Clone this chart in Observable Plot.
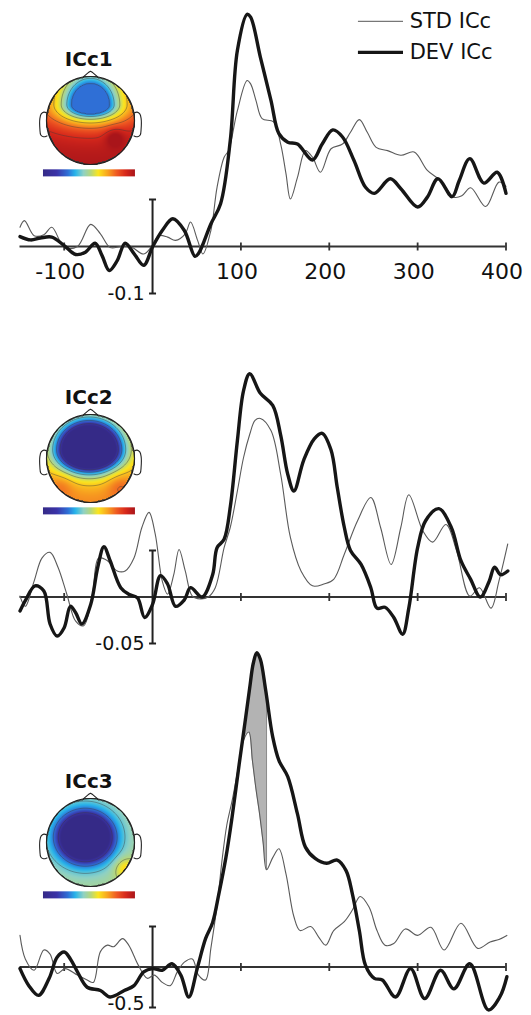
<!DOCTYPE html>
<html><head><meta charset="utf-8">
<script src="https://cdn.jsdelivr.net/npm/d3@7"></script>
<script src="https://cdn.jsdelivr.net/npm/@observablehq/plot@0.6"></script>
<style>
html,body{margin:0;padding:0;background:#fff;}
#wrap{position:relative;width:531px;height:1015px;overflow:hidden;background:#fff;}
#wrap svg{position:absolute;left:0;overflow:visible;}
</style></head><body><div id="wrap"></div>
<script>
// ---------- labels ----------
const xTicks = [-100, 100, 200, 300, 400];
const tickLabels = ["-100", "100", "200", "300", "400"];
const legendLabels = ["STD ICc", "DEV ICc"];
const componentTitles = ["ICc1", "ICc2", "ICc3"];
const scaleLabels = ["-0.1", "-0.05", "-0.5"];
const scaleBars = [0.1, 0.05, 0.5];

// ---------- ICc1 ----------
const ic1DevT = [-150,-138,-127,-114,-100,-87,-76,-65,-57,-49,-40,-31,-21,-10,0,11,23,36,48,52,66,77,88,96,107,111,122,134,143,153,164,181,192,204,215,228,241,251,269,281,300,311,323,339,347,359,375,390,400];
const ic1DevV = [0.021,0.014,0.018,0.020,0.002,-0.017,-0.012,0.007,-0.02,-0.051,-0.03,0.007,-0.015,-0.040,-0.001,0.034,0.059,0.034,-0.021,-0.015,0.048,0.091,0.226,0.417,0.494,0.488,0.403,0.311,0.240,0.222,0.218,0.184,0.218,0.248,0.233,0.183,0.126,0.113,0.144,0.123,0.084,0.105,0.144,0.106,0.140,0.187,0.135,0.158,0.113];
const ic1StdT = [-150,-145,-134,-123,-114,-100,-85,-70,-59,-48,-36,-25,-10,0,7,17,26,37,43,51,57,66,73,81,86,96,107,111,117,124,137,145,151,156,164,173,181,190,202,215,224,234,243,253,266,281,296,311,326,341,350,360,377,392,400];
const ic1StdV = [0.041,0.055,0.023,0.025,0.041,-0.001,0.0,0.047,0.027,-0.002,0.0,0.0,-0.016,0.003,0.023,0.020,0.013,0.027,0.052,0.013,-0.016,0.034,0.126,0.190,0.204,0.289,0.353,0.346,0.311,0.272,0.265,0.218,0.155,0.101,0.147,0.204,0.190,0.158,0.208,0.218,0.243,0.270,0.243,0.211,0.204,0.194,0.201,0.162,0.140,0.105,0.108,0.125,0.085,0.137,0.128];

// ---------- ICc2 ----------
const ic2DevT = [-150,-144,-133,-123,-116,-108,-100,-93,-87,-80,-70,-62,-55,-48,-36,-27,-17,-9,0,9,17,26,36,43,56,68,73,81,88,96,103,110,122,136,145,153,160,171,183,192,202,209,217,224,236,247,254,263,273,283,290,300,309,324,338,349,360,371,381,387,394,402];
const ic2DevV = [-0.015,-0.004,0.012,0.0065,-0.029,-0.042,-0.033,-0.010,-0.017,-0.029,-0.008,0.032,0.054,0.039,0.010,0.003,-0.001,-0.022,-0.008,0.023,0.014,-0.010,-0.003,0.010,0.0,0.024,0.053,0.062,0.097,0.168,0.222,0.240,0.219,0.206,0.174,0.132,0.114,0.147,0.170,0.176,0.158,0.118,0.075,0.050,0.035,0.010,-0.012,-0.011,-0.022,-0.040,-0.012,0.053,0.082,0.095,0.075,0.039,0.019,0.0,0.017,0.032,0.024,0.028];
const ic2StdT = [-150,-144,-134,-125,-116,-107,-97,-87,-78,-68,-61,-51,-40,-31,-21,-12,-4,3,11,17,24,30,37,45,54,63,71,81,88,96,103,110,116,122,134,145,156,168,181,194,205,217,232,247,258,270,281,290,306,317,332,344,359,370,383,392,402];
const ic2StdV = [0.001,-0.010,0.017,0.042,0.048,0.032,0.003,-0.026,-0.031,0.003,0.042,0.039,0.028,0.028,0.042,0.075,0.091,0.068,0.017,0.003,0.024,0.051,0.028,0.001,-0.002,0.0,0.010,0.053,0.075,0.114,0.150,0.175,0.190,0.192,0.179,0.132,0.064,0.028,0.012,0.014,0.019,0.046,0.082,0.107,0.075,0.035,0.075,0.110,0.071,0.059,0.078,0.050,0.001,0.010,-0.012,0.017,0.057];

// ---------- ICc3 ----------
const ic3DevT = [-150,-140,-129,-117,-108,-100,-93,-85,-74,-59,-48,-32,-21,-10,0,11,22,32,41,51,60,68,75,83,90,98,105,110,114,118,122,128,136,143,153,164,173,184,197,209,219,226,234,241,251,260,275,292,308,326,341,359,380,393,401];
const ic3DevV = [-0.02,-0.23,-0.35,-0.14,0.12,0.185,0.10,-0.06,-0.25,-0.29,-0.37,-0.29,-0.23,-0.06,-0.02,-0.04,0.04,-0.10,-0.37,0.0,0.35,0.55,0.9,1.35,1.85,2.5,3.05,3.45,3.75,3.88,3.8,3.42,2.84,2.55,2.35,1.89,1.48,1.34,1.28,1.32,1.19,0.91,0.45,0.02,-0.14,-0.16,-0.37,-0.02,-0.39,-0.04,-0.27,0.04,-0.53,-0.37,-0.12];
const ic3StdT = [-150,-144,-134,-123,-116,-108,-99,-85,-74,-67,-59,-51,-44,-34,-27,-16,-6,2,11,20,28,36,45,52,60,66,73,79,84,90,96,103,109,113,117,121,125,129,136,143,151,160,167,179,188,196,205,217,226,235,245,254,263,273,286,300,315,330,349,368,382,392,401];
const ic3StdV = [0.39,0.10,-0.04,0.21,0.16,-0.08,-0.02,-0.10,-0.16,-0.19,0.19,0.27,0.25,0.35,0.27,0.02,-0.14,-0.10,-0.19,-0.23,-0.06,0.06,0.10,-0.10,-0.16,0.23,0.76,1.35,1.75,2.05,2.4,2.8,2.9,2.55,2.2,1.9,1.55,1.2,1.35,1.46,1.15,0.62,0.45,0.50,0.37,0.27,0.45,0.56,0.70,0.87,0.74,0.45,0.27,0.29,0.47,0.39,0.49,0.21,0.54,0.23,0.31,0.34,0.39];
// shaded difference (ICc3)
const shadeT = [105,109,113,117,121,125,129];
const shadeDev = [3.05,3.4,3.72,3.87,3.82,3.6,3.35];
const shadeStd = [2.85,2.9,2.55,2.2,1.9,1.55,1.2];

// ---------- scalp-map descriptions (field shape per component) ----------
// [cx, cy, sx, syUp, syDown, r0, A, L, base, gy]
const map1 = [0.0, 0.36, 1.8, 2.0, 0.9, 0.24, 1.45, 0.3, -0.46, 0];
const map2 = [-0.03, 0.2, 1.45, 1.3, 1.0, 0.42, 1.5, 0.2, -1.0, 0];
const map3 = [-0.12, 0.12, 1.1, 1.0, 1.0, 0.5, 1.0, 0.2, -1.0, 0];
// spots: [x, y, amplitude, sigma]
const spots1 = [[0.55, -0.38, 0.25, 0.15]];
const spots2 = [[0.65, -0.6, 0.15, 0.2], [-0.65, -0.6, 0.12, 0.2]];
const spots3 = [[0.8, -0.6, 0.3, 0.18]];
const cmapStops = [-1, -0.7, -0.46, -0.3, -0.12, 0.04, 0.2, 0.4, 0.6, 0.8, 1];
const cmapColors = ["#352a87","#3b33a8","#2f6fd6","#27b4ea","#8fd1c4","#b6d77a","#fbe51e","#f8a51f","#ef5a22","#d7281b","#a9151a"];
const contourLevels = [-0.75, -0.45, -0.2, 0.05, 0.3, 0.55, 0.8];
// head drawing shapes (unit = head radius)
const noseX = [-0.17, -0.05, 0, 0.05, 0.17];
const noseY = [0.985, 1.09, 1.12, 1.09, 0.985];
const earX = [-0.99, -1.06, -1.12, -1.15, -1.15, -1.13, -1.07, -0.99];
const earY = [0.17, 0.19, 0.15, 0.05, -0.2, -0.33, -0.37, -0.35];

const FONT = "DejaVu Sans, Liberation Sans, Arial, sans-serif";
const wrap = document.getElementById("wrap");

const vline = {draw(ctx, size) { const r = Math.sqrt(size / Math.PI); ctx.moveTo(0, -r); ctx.lineTo(0, r); }};
const hline = {draw(ctx, size) { const r = Math.sqrt(size / Math.PI); ctx.moveTo(-r, 0); ctx.lineTo(r, 0); }};

function panel(o) {
  const b = o.bar;
  const marks = [];
  if (o.shade) {
    marks.push(Plot.areaY(shadeT, {x: d => d, y1: (d, i) => shadeStd[i], y2: (d, i) => shadeDev[i], fill: "#b3b3b3", curve: "catmull-rom"}));
    marks.push(Plot.ruleX([shadeT[shadeT.length - 1]], {x: d => d, y1: shadeStd[shadeStd.length - 1], y2: shadeDev[shadeDev.length - 1], stroke: "#8a8a8a", strokeWidth: 1}));
  }
  marks.push(
    Plot.ruleY([0], {x1: -150, x2: 400, stroke: "#333", strokeWidth: 1.8}),
    Plot.dot(xTicks, {x: d => d, y: 0, symbol: vline, r: 4, stroke: "#333", strokeWidth: 1.8, fill: "none"}),
    Plot.ruleX([0], {y1: -b, y2: b, stroke: "#222", strokeWidth: 2}),
    Plot.dot([-b, b], {x: 0, y: d => d, symbol: hline, r: 3.5, stroke: "#222", strokeWidth: 2, fill: "none"}),
    Plot.line(o.stdT, {x: d => d, y: (d, i) => o.stdV[i], stroke: "#5a5a5a", strokeWidth: 1.1, curve: "catmull-rom"}),
    Plot.line(o.devT, {x: d => d, y: (d, i) => o.devV[i], stroke: "#161616", strokeWidth: 3.4, curve: "catmull-rom", strokeLinejoin: "round"}),
    Plot.text([o.barLabel], {x: 0, y: -b, text: d => d, textAnchor: "end", dx: -8, dy: o.labelDy || 0, fontSize: 19, fontFamily: FONT, fill: "#111"})
  );
  if (o.labels) {
    marks.push(Plot.text(xTicks, {x: d => d, y: 0, text: (d, i) => tickLabels[i], dx: -4, dy: 25, fontSize: 22, fontFamily: FONT, fill: "#111"}));
    // legend
    marks.push(
      Plot.ruleY([legendLabels[0]], {y: 0.479, x1: 233, x2: 284, stroke: "#777", strokeWidth: 1.2}),
      Plot.ruleY([legendLabels[1]], {y: 0.413, x1: 233, x2: 284, stroke: "#161616", strokeWidth: 3.4}),
      Plot.text([legendLabels[0]], {x: 291, y: 0.479, text: d => d, textAnchor: "start", fontSize: 21, fontFamily: FONT, fill: "#111"}),
      Plot.text([legendLabels[1]], {x: 291, y: 0.413, text: d => d, textAnchor: "start", fontSize: 21, fontFamily: FONT, fill: "#111"})
    );
  }
  const svg = Plot.plot({
    width: 531, height: o.height, margin: 0,
    x: {domain: [-150, 400], range: [19.5, 505.5], axis: null},
    y: {domain: [-b, b], range: o.yRange, axis: null},
    style: {background: "transparent", overflow: "visible"},
    marks
  });
  svg.style.top = o.top + "px";
  wrap.append(svg);
}

function makeField(p, spots) {
  const [cx, cy, sx, syUp, syDown, r0, A, L, base, gy] = p;
  return (x, y) => {
    const dx = (x - cx) / sx, dy = (y - cy) / (y > cy ? syUp : syDown);
    const d = Math.sqrt(dx * dx + dy * dy);
    let f = base + A * (1 - Math.exp(-Math.max(0, d - r0) / L)) + gy * Math.max(0, -y);
    for (const [sx0, sy0, a, s] of spots) f += a * Math.exp(-((x - sx0) ** 2 + (y - sy0) ** 2) / (2 * s * s));
    return f;
  };
}

function inset(title, cyPx, p, spots) {
  const U = 44;
  const field = makeField(p, spots);
  const inside = (x, y) => (x * x + y * y <= 1 ? field(x, y) : NaN);
  const svg = Plot.plot({
    width: 120, height: 150, margin: 0,
    x: {domain: [-60 / U, 60 / U], range: [0, 120], axis: null},
    y: {domain: [-75 / U, 75 / U], range: [150, 0], axis: null},
    color: {type: "linear", domain: cmapStops, range: cmapColors, clamp: true},
    style: {background: "transparent", overflow: "visible"},
    marks: [
      Plot.raster({x1: -1, x2: 1, y1: -1, y2: 1, width: 88, height: 88, fill: inside}),
      Plot.contour({x1: -1, x2: 1, y1: -1, y2: 1, width: 88, height: 88, value: inside, thresholds: contourLevels, stroke: "#3a3a3a", strokeOpacity: 0.6, strokeWidth: 0.7, fill: "none"}),
      Plot.dot([0], {x: 0, y: 0, r: U, stroke: "#222", strokeWidth: 1.2, fill: "none"}),
      Plot.line(noseX, {x: d => d, y: (d, i) => noseY[i], stroke: "#222", strokeWidth: 1.1}),
      Plot.line(earX, {x: d => d, y: (d, i) => earY[i], stroke: "#222", strokeWidth: 1.1, curve: "catmull-rom"}),
      Plot.line(earX, {x: d => -d, y: (d, i) => earY[i], stroke: "#222", strokeWidth: 1.1, curve: "catmull-rom"}),
      Plot.raster({x1: -1.08, x2: 1.01, y1: -1.27, y2: -1.11, width: 92, height: 7, fill: (x, y) => -1 + 2 * (x + 1.08) / 2.09}),
      Plot.text([title], {x: -0.04, y: 1.39, text: d => d, fontSize: 20, fontWeight: "bold", fontFamily: FONT, fill: "#111"})
    ]
  });
  svg.style.top = (cyPx - 75) + "px";
  svg.style.left = (89.5 - 60) + "px";
  wrap.append(svg);
}

panel({top: 0, height: 310, bar: scaleBars[0], yRange: [293, 199], stdT: ic1StdT, stdV: ic1StdV, devT: ic1DevT, devV: ic1DevV, barLabel: scaleLabels[0], labels: true});
panel({top: 310, height: 345, bar: scaleBars[1], yRange: [333, 240], stdT: ic2StdT, stdV: ic2StdV, devT: ic2DevT, devV: ic2DevV, barLabel: scaleLabels[1]});
panel({top: 650, height: 365, bar: scaleBars[2], yRange: [357, 276], stdT: ic3StdT, stdV: ic3StdV, devT: ic3DevT, devV: ic3DevV, barLabel: scaleLabels[2], shade: true, labelDy: -4});

inset(componentTitles[0], 120, map1, spots1);
inset(componentTitles[1], 458, map2, spots2);
inset(componentTitles[2], 842, map3, spots3);
</script></body></html>
